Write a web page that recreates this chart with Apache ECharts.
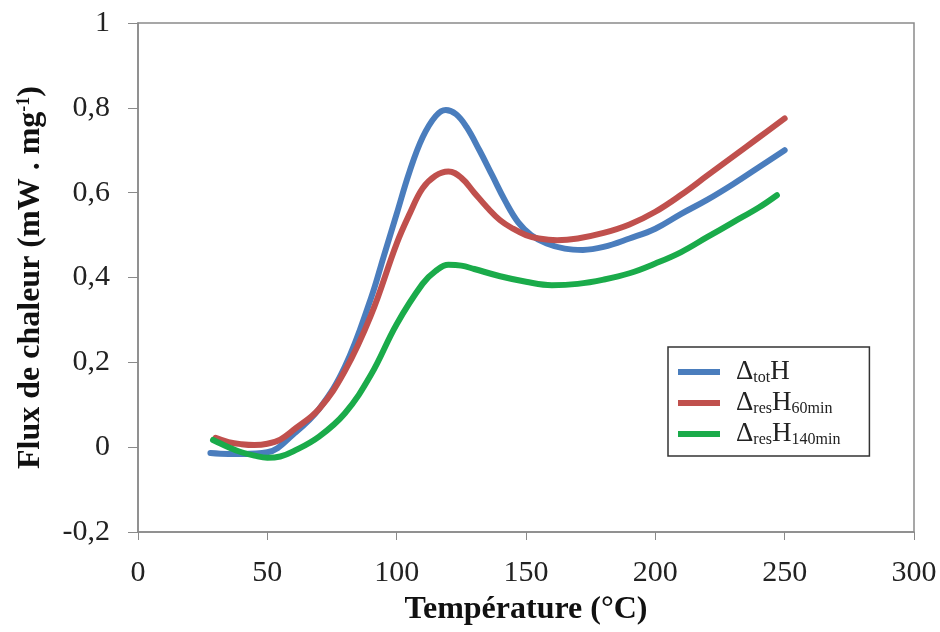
<!DOCTYPE html>
<html>
<head>
<meta charset="utf-8">
<script src="https://cdn.jsdelivr.net/npm/echarts@6/dist/echarts.min.js"></script>
<style>
  html, body { margin: 0; padding: 0; background: #fff; }
  #chart { width: 940px; height: 632px; }
</style>
</head>
<body>
<div id="chart"></div>
<script>
// valeurs : [température (°C), flux (mW/mg)]
const totH = [
  [28, -0.014], [35, -0.016], [40, -0.016], [50, -0.012], [60, 0.03], [70, 0.09],
  [80, 0.19], [90, 0.35], [95, 0.45], [100, 0.55], [105, 0.65], [110, 0.73],
  [115, 0.78], [119, 0.795], [123, 0.785], [127, 0.755], [132, 0.70], [137, 0.64],
  [142, 0.58], [147, 0.53], [152, 0.50], [158, 0.48], [165, 0.468], [172, 0.465],
  [180, 0.472], [190, 0.492], [200, 0.515], [210, 0.55], [220, 0.583], [230, 0.62],
  [240, 0.66], [250, 0.70]
];
const res60 = [
  [30, 0.022], [35, 0.012], [40, 0.007], [45, 0.005], [50, 0.008], [55, 0.018],
  [60, 0.04], [70, 0.09], [80, 0.18], [90, 0.31], [100, 0.48], [105, 0.55],
  [110, 0.61], [115, 0.64], [120, 0.65], [125, 0.635], [130, 0.60], [135, 0.565],
  [140, 0.535], [145, 0.515], [150, 0.50], [155, 0.492], [162, 0.488], [170, 0.492],
  [180, 0.505], [190, 0.525], [200, 0.555], [210, 0.595], [220, 0.64], [230, 0.685],
  [240, 0.73], [250, 0.775]
];
const res140 = [
  [29, 0.017], [35, 0.0], [40, -0.012], [45, -0.02], [50, -0.025], [55, -0.022],
  [60, -0.01], [70, 0.025], [80, 0.08], [90, 0.17], [100, 0.29], [110, 0.385],
  [115, 0.415], [120, 0.43], [125, 0.428], [130, 0.42], [140, 0.403], [150, 0.39],
  [160, 0.382], [170, 0.385], [180, 0.395], [190, 0.41], [200, 0.433], [210, 0.46],
  [220, 0.495], [230, 0.53], [240, 0.565], [247, 0.594]
];
const seriesNames = ['tot', 'res60', 'res140'];
const colors = ['#4a7dbd', '#c0504d', '#1aab4a'];

const chart = echarts.init(document.getElementById('chart'));
const serif = '"Liberation Serif", "DejaVu Serif", serif';
const axisGray = '#8a8a8a';

const legendText = {
  tot: '{d|Δ}{s|tot}{b|H}',
  res60: '{d|Δ}{s|res}{b|H}{s|60min}',
  res140: '{d|Δ}{s|res}{b|H}{s|140min}'
};

const mkSeries = (name, data, i) => ({
  name: name,
  type: 'line',
  data: data,
  smooth: 0.4,
  symbol: 'none',
  lineStyle: { width: 6, color: colors[i], cap: 'round' },
  itemStyle: { color: colors[i] }
});

chart.setOption({
  backgroundColor: '#fff',
  animation: false,
  grid: {
    left: 138, right: 26, top: 23, bottom: 100,
    show: true, borderColor: axisGray, borderWidth: 1.5
  },
  legend: {
    orient: 'vertical',
    left: 668, top: 347,
    padding: [11, 29, 8, 10],
    itemGap: 3,
    itemWidth: 42, itemHeight: 6,
    icon: 'rect',
    borderColor: '#333', borderWidth: 1.5,
    data: seriesNames,
    formatter: name => legendText[name],
    textStyle: {
      rich: {
        d: { fontFamily: serif, fontSize: 27, color: '#222', lineHeight: 28, padding: [0, 0, 0, 11] },
        b: { fontFamily: serif, fontSize: 27, color: '#222', lineHeight: 28 },
        s: { fontFamily: serif, fontSize: 16, color: '#222', verticalAlign: 'bottom', lineHeight: 16, padding: [12, 0, 0, 0] }
      }
    }
  },
  xAxis: {
    type: 'value',
    min: 0, max: 300, interval: 50,
    name: 'Température (°C)',
    nameLocation: 'middle',
    nameGap: 62,
    nameTextStyle: { fontFamily: serif, fontSize: 32, fontWeight: 'bold', color: '#111' },
    axisLine: { show: true, onZero: false, lineStyle: { color: axisGray, width: 1.5 } },
    axisTick: { show: true, length: 8, lineStyle: { color: axisGray } },
    axisLabel: { fontFamily: serif, fontSize: 30, color: '#222', margin: 26 },
    splitLine: { show: false }
  },
  yAxis: {
    type: 'value',
    min: -0.2, max: 1, interval: 0.2,
    name: 'Flux de chaleur (mW . mg{sup|-1})',
    nameLocation: 'middle',
    nameGap: 91,
    nameRotate: 90,
    nameTextStyle: {
      fontFamily: serif, fontSize: 32, fontWeight: 'bold', color: '#111',
      rich: {
        sup: { fontFamily: serif, fontSize: 18, fontWeight: 'bold', color: '#111', verticalAlign: 'top', padding: [0, 0, 14, 0] }
      }
    },
    axisLine: { show: true, lineStyle: { color: axisGray, width: 1.5 } },
    axisTick: { show: true, length: 10, lineStyle: { color: axisGray } },
    axisLabel: {
      fontFamily: serif, fontSize: 30, color: '#222', margin: 28,
      formatter: v => String(Math.round(v * 10) / 10).replace('.', ',')
    },
    splitLine: { show: false }
  },
  series: [
    mkSeries('tot', totH, 0),
    mkSeries('res60', res60, 1),
    mkSeries('res140', res140, 2)
  ]
});
</script>
</body>
</html>
